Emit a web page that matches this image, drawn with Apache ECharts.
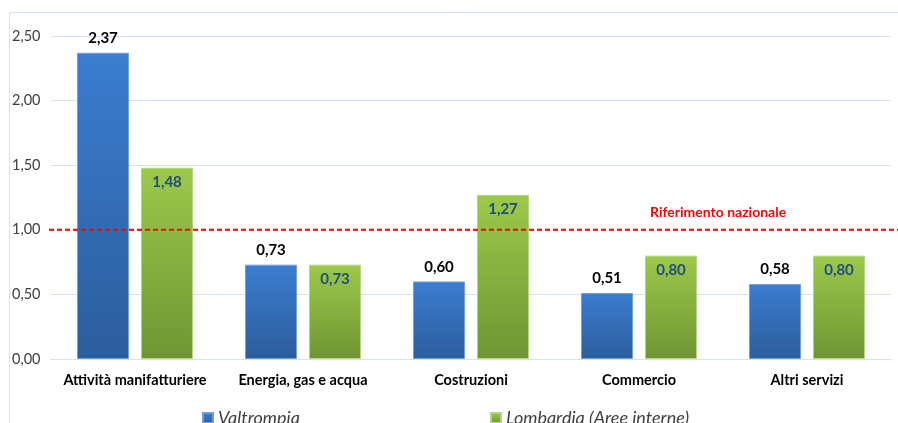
<!DOCTYPE html>
<html lang="it">
<head>
    <meta charset="UTF-8">
    <title>Valtrompia vs Lombardia</title>
    <script src="https://cdn.jsdelivr.net/npm/echarts@6/dist/echarts.min.js"></script>
    <style>
        html, body { margin: 0; padding: 0; background: #fff; }
    </style>
</head>
<body>
    <div id="main" style="width: 898px;height:423px;"></div>
    <script>
        var chartDom = document.getElementById('main');
        var myChart = echarts.init(chartDom);

        // dati
        const categories = ['Attività manifatturiere', 'Energia, gas e acqua', 'Costruzioni', 'Commercio', 'Altri servizi'];
        const valtrompia = [2.37, 0.73, 0.60, 0.51, 0.58];
        const lombardia = [1.48, 0.73, 1.27, 0.80, 0.80];
        const riferimento = [[0, 1], [1, 1]];

        const fmt = v => v.toFixed(2).replace('.', ',');
        const font = 'Lato, "Open Sans", sans-serif';
        const gridColor = '#D5E2F2';

        var option = {
            backgroundColor: '#fff',
            textStyle: { fontFamily: font },
            animation: false,
            graphic: [
                {
                    type: 'rect',
                    shape: { x: 9.5, y: 12.5, width: 1000, height: 500 },
                    style: { fill: 'none', stroke: gridColor, lineWidth: 1 },
                    silent: true, z: -1
                },
                {
                    type: 'text',
                    left: 650, top: 205,
                    style: { text: 'Riferimento nazionale', fill: '#FF0000', font: 'bold 14px ' + font },
                    z: 10
                }
            ],
            legend: [
                {
                    left: 202, top: 409, padding: 0,
                    icon: 'rect', itemWidth: 10, itemHeight: 10, itemGap: 5,
                    data: ['Valtrompia'],
                    textStyle: { fontSize: 18, fontStyle: 'italic', color: '#404040', fontFamily: font }
                },
                {
                    left: 490, top: 409, padding: 0,
                    icon: 'rect', itemWidth: 10, itemHeight: 10, itemGap: 5,
                    data: ['Lombardia (Aree interne)'],
                    textStyle: { fontSize: 18, fontStyle: 'italic', color: '#404040', fontFamily: font }
                }
            ],
            grid: [
                { left: 51, right: 7, top: 36, bottom: 64 },
                { left: 49, right: 0, top: 36, bottom: 64 }
            ],
            xAxis: [
                {
                    type: 'category',
                    data: categories,
                    gridIndex: 0,
                    axisLine: { lineStyle: { color: gridColor } },
                    axisTick: { show: false },
                    axisLabel: {
                        interval: 0, hideOverlap: false,
                        color: '#000', fontWeight: 'bold', fontSize: 14.5, margin: 14, fontFamily: font
                    }
                },
                { type: 'value', gridIndex: 1, min: 0, max: 1, show: false }
            ],
            yAxis: [
                {
                    type: 'value',
                    gridIndex: 0,
                    min: 0, max: 2.5, interval: 0.5,
                    axisLine: { show: false },
                    axisTick: { show: false },
                    splitLine: { lineStyle: { color: gridColor, width: 1 } },
                    axisLabel: {
                        formatter: fmt,
                        color: '#404040', fontSize: 14.5, align: 'left', margin: 39, fontFamily: font
                    }
                },
                { type: 'value', gridIndex: 1, min: 0, max: 2.5, show: false }
            ],
            series: [
                {
                    name: 'Valtrompia',
                    type: 'bar',
                    data: valtrompia,
                    barWidth: 52,
                    barGap: '23%',
                    itemStyle: {
                        color: new echarts.graphic.LinearGradient(0, 0, 0, 1, [
                            { offset: 0, color: '#3B7DD0' },
                            { offset: 1, color: '#2C5D9C' }
                        ]),
                        borderColor: '#6FA0DC', borderWidth: 1
                    },
                    label: {
                        show: true, position: 'top', distance: 7,
                        formatter: p => fmt(p.value),
                        color: '#000', fontWeight: 'bold', fontSize: 15, fontFamily: font
                    }
                },
                {
                    name: 'Lombardia (Aree interne)',
                    type: 'bar',
                    data: lombardia,
                    barWidth: 52,
                    itemStyle: {
                        color: new echarts.graphic.LinearGradient(0, 0, 0, 1, [
                            { offset: 0, color: '#9DC94B' },
                            { offset: 1, color: '#6E9533' }
                        ]),
                        borderColor: '#B5D67A', borderWidth: 1
                    },
                    label: {
                        show: true, position: 'insideTop', distance: 7,
                        formatter: p => fmt(p.value),
                        color: '#1F4E79', fontWeight: 'bold', fontSize: 15, fontFamily: font
                    }
                },
                {
                    name: 'Riferimento nazionale',
                    type: 'line',
                    xAxisIndex: 1, yAxisIndex: 1,
                    data: riferimento,
                    symbol: 'none',
                    z: 5,
                    lineStyle: { color: '#FF0000', width: 2, type: [5, 3] }
                }
            ]
        };

        myChart.setOption(option);
    </script>
</body>
</html>
